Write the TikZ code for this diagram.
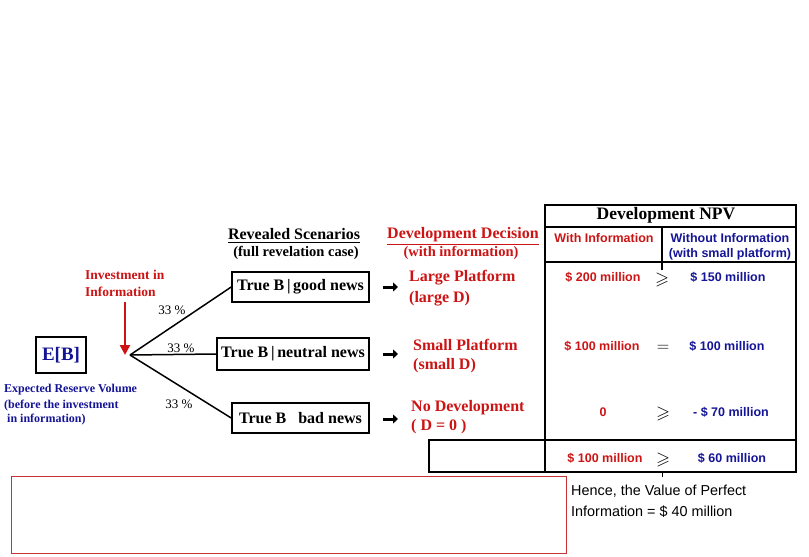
\documentclass[tikz,border=0pt]{standalone}
\usepackage{fontspec}
\usepackage{amssymb}
\setmainfont{Liberation Serif}
\newfontfamily\arialf{Liberation Sans}
\usetikzlibrary{arrows.meta}
\definecolor{dred}{RGB}{204,20,20}
\definecolor{dblue}{RGB}{20,20,150}
\definecolor{boxred}{RGB}{200,50,50}
\newcommand{\fs}[1]{\fontsize{#1}{#1}\selectfont}
\tikzset{
  txt/.style={inner sep=0pt, font=\fs{14.5}\bfseries},
  scen/.style={draw, line width=1.6pt, inner sep=0pt, font=\fs{16}\bfseries},
  branch/.style={line width=1.5pt},
  tline/.style={line width=2pt},
  val/.style={inner sep=0pt, font=\arialf\fs{12.5}\bfseries},
  rel/.style={inner sep=0pt, font=\fs{18}},
  dec/.style={txt, text=dred, anchor=west, font=\fs{16}\bfseries},
  pct/.style={inner sep=0pt, font=\fs{13}},
  fat/.style={line width=3pt, -{Triangle[length=5pt,width=9pt]}},
}
\begin{document}
\begin{tikzpicture}[x=1pt,y=-1pt]
\useasboundingbox (0,0) rectangle (809,557);

% ---- table ----
\draw[tline] (545,205) rectangle (796,440);
\draw[tline] (429,440) rectangle (796,472);
\draw[tline] (545,440) -- (545,472);
\draw[tline] (545,227) -- (796,227);
\draw[tline] (545,262) -- (796,262);
\draw[tline] (662,227) -- (662,270);
\draw[line width=1pt] (662,472) -- (662,477);

\node[txt, font=\fs{17.5}\bfseries] (npv) at (666,215) {Development NPV};
\node[val, text=dred] (withi) at (604,238) {With Information};
\node[val, text=dblue] (witho1) at (730,238) {Without Information};
\node[val, text=dblue] (witho2) at (730,254) {(with small platform)};

\node[val, text=dred] (v1a) at (603,277) {\$ 200 million};
\node[rel] (r1) at (662,280) {$\geqslant$};
\node[val, text=dblue] (v1b) at (728,277) {\$ 150 million};

\node[val, text=dred] (v2a) at (602,346) {\$ 100 million};
\node[rel] (r2) at (663,348) {$=$};
\node[val, text=dblue] (v2b) at (727,346) {\$ 100 million};

\node[val, text=dred] (v3a) at (603,412) {0};
\node[rel] (r3) at (663,414) {$\geqslant$};
\node[val, text=dblue] (v3b) at (731,412) {- \$ 70 million};

\node[val, text=dred] (v4a) at (605,458) {\$ 100 million};
\node[rel] (r4) at (663,460) {$\geqslant$};
\node[val, text=dblue] (v4b) at (732,458) {\$ 60 million};

% ---- headings ----
\node[txt, font=\fs{16}\bfseries] (rs) at (294,236) {\underline{Revealed Scenarios}};
\node[txt] (rs2) at (296,253) {(full revelation case)};
\node[txt, text=dred, font=\fs{16}\bfseries] (dd) at (463,236) {\underline{Development Decision}};
\node[txt, text=dred] (dd2) at (461,253) {(with information)};

% ---- scenario boxes ----
\node[scen, minimum width=137pt, minimum height=30pt] (good) at (300.5,287) {True B\,|\,good news};
\node[scen, minimum width=152pt, minimum height=32pt] (neutral) at (293,354) {True B\,|\,neutral news};
\node[scen, minimum width=137pt, minimum height=30pt] (bad) at (300.5,418) {True B \ \ bad news};

% ---- decisions ----
\node[dec] (lp1) at (409,278) {Large Platform};
\node[dec] (lp2) at (409,299) {(large D)};
\node[dec] (sp1) at (413,345) {Small Platform};
\node[dec] (sp2) at (413,366) {(small D)};
\node[dec] (nd1) at (411,408) {No Development};
\node[dec] (nd2) at (411,427) {( D = 0 )};

\coordinate (a1s) at (383,287); \coordinate (a1e) at (398,287);
\coordinate (a2s) at (383,354); \coordinate (a2e) at (398,354);
\coordinate (a3s) at (383,419); \coordinate (a3e) at (398,419);
\draw[fat] (a1s) -- (a1e);
\draw[fat] (a2s) -- (a2e);
\draw[fat] (a3s) -- (a3e);

% ---- left part ----
\node[draw, line width=1.6pt, minimum width=50pt, minimum height=36pt, inner sep=0pt,
      text=dblue, font=\fs{19}\bfseries] (eb) at (61,355) {E[B]};
\node[txt, text=dblue, font=\fs{12}\bfseries, anchor=west] (ex1) at (4,390) {Expected Reserve Volume};
\node[txt, text=dblue, font=\fs{12}\bfseries, anchor=west] (ex2) at (4,406) {(before the investment};
\node[txt, text=dblue, font=\fs{12}\bfseries, anchor=west] (ex3) at (7,420) {in information)};

\node[txt, text=dred, font=\fs{13.5}\bfseries, anchor=west] (inv1) at (85,275) {Investment in};
\node[txt, text=dred, font=\fs{13.5}\bfseries, anchor=west] (inv2) at (85,292) {Information};
\coordinate (arrs) at (125,302);
\coordinate (arre) at (125,355);
\draw[dred, line width=2.5pt, -{Triangle[length=10pt,width=10pt]}] (arrs) -- (arre);

\coordinate (bp) at (130,355);
\draw[branch] (bp) -- (good.west);
\draw[branch] (bp) -- (neutral.west);
\draw[branch] (bp) -- (bad.west);
\node[pct] (p1) at (172,310) {33 \%};
\node[pct] (p2) at (181,348) {33 \%};
\node[pct] (p3) at (179,404) {33 \%};

% ---- bottom ----
\node[draw=boxred, line width=1pt, minimum width=555pt, minimum height=77pt, inner sep=0pt] (rb) at (288.5,514.5) {};
\node[inner sep=0pt, anchor=west, font=\arialf\fs{14.4}] (h1) at (571,491) {Hence, the Value of Perfect};
\node[inner sep=0pt, anchor=west, font=\arialf\fs{14.4}] (h2) at (571,512) {Information = \$ 40 million};
\end{tikzpicture}
\end{document}
